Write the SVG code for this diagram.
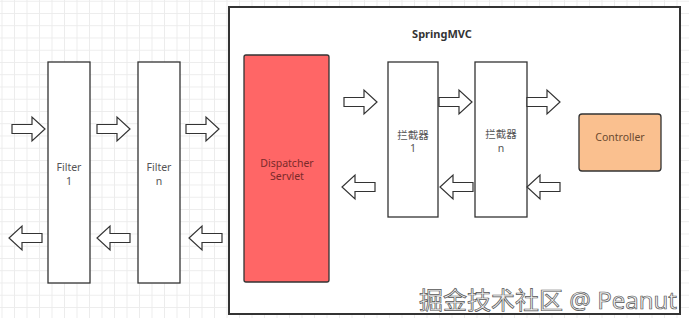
<svg xmlns="http://www.w3.org/2000/svg" xmlns:xlink="http://www.w3.org/1999/xlink" width="689" height="329" viewBox="0 0 689 329">
<style>
.box{fill:#fff;stroke:#333;stroke-width:1.3}
.lbl{font-family:"Noto Sans","Noto Sans CJK SC",sans-serif;font-size:10.5px;fill:#555;text-anchor:middle}
.arr{fill:#fff;stroke:#333;stroke-width:1.2;stroke-linejoin:miter}
</style>
<defs>
<pattern id="grid" width="12.5" height="12.25" patternUnits="userSpaceOnUse" x="1.5" y="0.75">
<path d="M0,0.5 H12.5 M0.5,0 V12.25" fill="none" stroke="#ececec" stroke-width="1"/>
</pattern>
<path id="ra" class="arr" d="M0,-4.5 H20 V-12 L33,0 L20,12 V4.5 H0 Z"/>
<path id="la" class="arr" d="M33,-4.5 H13 V-12 L0,0 L13,12 V4.5 H33 Z"/>
</defs>
<rect width="689" height="329" fill="#fff"/>
<rect width="689" height="318" fill="url(#grid)"/>
<g id="springmvc">
<rect x="229" y="7" width="451" height="307" fill="#fff" stroke="#333" stroke-width="2"/>
<text x="442" y="38" font-family="'Noto Sans','Liberation Sans',sans-serif" font-size="11" font-weight="bold" fill="#333" text-anchor="middle">SpringMVC</text>
</g>
<g id="filter1">
<rect class="box" x="48" y="62" width="42" height="221"/>
<text class="lbl" x="69" y="171">Filter</text>
<text class="lbl" x="69" y="185">1</text>
</g>
<g id="filtern">
<rect class="box" x="138" y="62" width="42" height="221"/>
<text class="lbl" x="159" y="171">Filter</text>
<text class="lbl" x="159" y="185">n</text>
</g>
<g id="dispatcher">
<rect x="244" y="55" width="85" height="227" rx="2" fill="#ff6666" stroke="#333" stroke-width="1.3"/>
<text class="lbl" x="287" y="167" fill="#7a2a2a" style="fill:#7a2a2a">Dispatcher</text>
<text class="lbl" x="287" y="180" style="fill:#7a2a2a">Servlet</text>
</g>
<g id="interceptor1">
<rect class="box" x="388" y="62" width="50" height="155"/>
<text class="lbl" x="413" y="139">拦截器</text>
<text class="lbl" x="413" y="152">1</text>
</g>
<g id="interceptorn">
<rect class="box" x="475" y="62" width="52" height="155"/>
<text class="lbl" x="501" y="138">拦截器</text>
<text class="lbl" x="501" y="152">n</text>
</g>
<g id="controller">
<rect x="579" y="114" width="82" height="57" rx="3" fill="#fac08f" stroke="#333" stroke-width="1.3"/>
<text class="lbl" x="620" y="141" style="fill:#6a4a30">Controller</text>
</g>
<g id="connectors">
<use xlink:href="#ra" x="12" y="129"/>
<use xlink:href="#ra" x="97" y="129"/>
<use xlink:href="#ra" x="186" y="129"/>
<use xlink:href="#la" x="9" y="238"/>
<use xlink:href="#la" x="97" y="238"/>
<use xlink:href="#la" x="189" y="238"/>
<use xlink:href="#ra" x="344" y="102"/>
<use xlink:href="#ra" x="439" y="102"/>
<use xlink:href="#ra" x="527" y="102"/>
<use xlink:href="#la" x="342" y="187"/>
<use xlink:href="#la" x="440" y="187"/>
<use xlink:href="#la" x="527" y="187"/>
</g>
<text x="677" y="309" font-family="'Noto Sans','Noto Sans CJK SC',sans-serif" font-size="24" fill="#f2f2f2" stroke="#555" stroke-width="0.7" text-anchor="end">掘金技术社区 @ Peanut</text>
</svg>
